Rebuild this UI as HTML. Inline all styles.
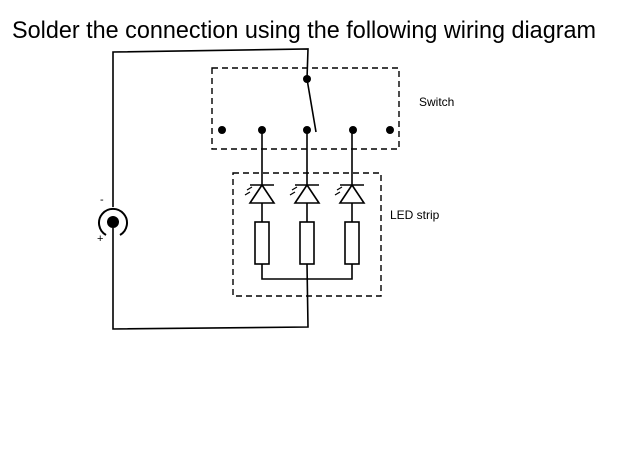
<!DOCTYPE html>
<html><head><style>body{margin:0;background:#fff;width:620px;height:465px;overflow:hidden}</style></head><body>
<svg width="620" height="465" xmlns="http://www.w3.org/2000/svg" font-family="Liberation Sans, sans-serif">
<text x="12" y="38" font-size="24" fill="#000" textLength="584" lengthAdjust="spacingAndGlyphs">Solder the connection using the following wiring diagram</text>
<g stroke="#000" stroke-width="1.6" fill="none">
<polyline points="113,207 113,52 308,49 307,79"/>
<polyline points="113,228 113,329 308,327 307,264"/>
<path d="M106,235 A14,14 0 1 1 120,235" stroke-width="2"/>
<line x1="307" y1="79" x2="316" y2="132"/>
<line x1="262" y1="130" x2="262" y2="222"/>
<line x1="307" y1="130" x2="307" y2="222"/>
<line x1="352" y1="130" x2="352" y2="222"/>
<polyline points="262,264 262,279 352,279 352,264"/>
<rect x="255" y="222" width="14" height="42" fill="#fff"/>
<rect x="300" y="222" width="14" height="42" fill="#fff"/>
<rect x="345" y="222" width="14" height="42" fill="#fff"/>
<g stroke-dasharray="6,4" stroke-width="1.4">
<rect x="212" y="68" width="187" height="81"/>
<rect x="233" y="173" width="148" height="123"/>
</g>
</g>
<g stroke="#000" stroke-width="1.6" fill="#fff">
<path d="M250,185 L274,185 M262,185 L250,203 L274,203 Z"/>
<path d="M295,185 L319,185 M307,185 L295,203 L319,203 Z"/>
<path d="M340,185 L364,185 M352,185 L340,203 L364,203 Z"/>
</g>
<g stroke="#000" stroke-width="1.2">
<path d="M247,190 l5,-3 M245,195 l5,-3 M292,190 l5,-3 M290,195 l5,-3 M337,190 l5,-3 M335,195 l5,-3"/>
</g>
<g fill="#000">
<circle cx="113" cy="222" r="6"/>
<circle cx="307" cy="79" r="4"/>
<circle cx="222" cy="130" r="4"/><circle cx="262" cy="130" r="4"/><circle cx="307" cy="130" r="4"/><circle cx="353" cy="130" r="4"/><circle cx="390" cy="130" r="4"/>
</g>
<text x="100" y="203" font-size="11">-</text>
<text x="97" y="242" font-size="11">+</text>
<text x="419" y="106" font-size="12">Switch</text>
<text x="390" y="219" font-size="12">LED strip</text>
</svg>
</body></html>
